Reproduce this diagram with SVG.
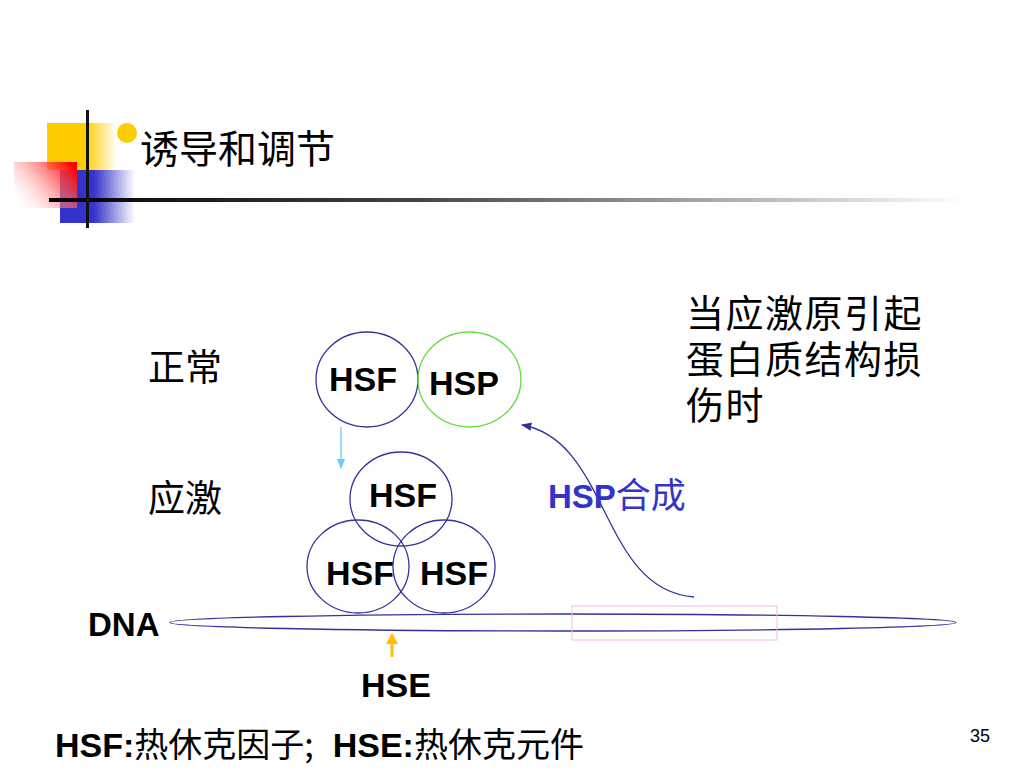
<svg xmlns="http://www.w3.org/2000/svg" width="1024" height="768" viewBox="0 0 1024 768">
<defs>
<linearGradient id="gY" x1="0" y1="0" x2="1" y2="0"><stop offset="0" stop-color="#FFCC00"/><stop offset="0.55" stop-color="#FFCC00"/><stop offset="1" stop-color="#FFCC00" stop-opacity="0"/></linearGradient>
<linearGradient id="gR" x1="1" y1="0.2" x2="0" y2="0.8"><stop offset="0" stop-color="#FF0000"/><stop offset="1" stop-color="#FFFFFF" stop-opacity="0.2"/></linearGradient>
<linearGradient id="gB" x1="0" y1="0" x2="1" y2="0"><stop offset="0" stop-color="#3333CC"/><stop offset="0.45" stop-color="#3333CC"/><stop offset="1" stop-color="#3333CC" stop-opacity="0"/></linearGradient>
<linearGradient id="gL" x1="0" y1="0" x2="1" y2="0"><stop offset="0" stop-color="#000"/><stop offset="0.4" stop-color="#444"/><stop offset="1" stop-color="#fff"/></linearGradient>
<marker id="ah" viewBox="0 0 10 10" refX="9" refY="5" markerWidth="8" markerHeight="8" orient="auto"><path d="M0,1 L10,5 L0,9 z" fill="#333399"/></marker>
<marker id="ahL" viewBox="0 0 10 10" refX="9" refY="5" markerWidth="8" markerHeight="8" orient="auto"><path d="M0,1 L10,5 L0,9 z" fill="#66CCFF"/></marker>
<marker id="ahY" viewBox="0 0 10 10" refX="7" refY="5" markerWidth="4" markerHeight="4" orient="auto"><path d="M0,0 L10,5 L0,10 z" fill="#FFC000"/></marker>
</defs>
<style>
.cn{font-family:"Noto Sans CJK SC","Liberation Sans",sans-serif;fill:#000}
.cl{font-family:"Liberation Sans","Noto Sans CJK SC",sans-serif;fill:#000}
.b{font-family:"Liberation Sans","Noto Sans CJK SC",sans-serif;font-weight:bold;fill:#000}
.c{fill:none;stroke:#333399;stroke-width:1.3}
</style>
<rect width="1024" height="768" fill="#fff"/>
<g id="decor">
<rect x="47" y="123" width="70" height="47" fill="url(#gY)"/>
<rect x="60" y="170" width="75" height="53" fill="url(#gB)"/>
<rect x="14" y="162" width="63" height="46" fill="url(#gR)"/>
<rect x="49" y="198" width="915" height="4" fill="url(#gL)"/>
<rect x="86" y="110" width="3" height="118" fill="#111"/>
<circle cx="127" cy="133" r="10" fill="#FFCC00"/>
</g>
<text class="cn" x="140" y="163" font-size="39">诱导和调节</text>
<g id="connectors">
<line x1="341" y1="427" x2="341" y2="468" stroke="#66CCFF" stroke-width="1.3" marker-end="url(#ahL)"/>
<path d="M694,597 C600,590 610,440 522,425" fill="none" stroke="#333399" stroke-width="1.3" marker-end="url(#ah)"/>
<line x1="392" y1="657" x2="392" y2="636" stroke="#FFC000" stroke-width="3" marker-end="url(#ahY)"/>
</g>
<g id="dna">
<ellipse cx="563" cy="622.5" rx="393" ry="8.5" class="c"/>
<rect x="572" y="606" width="205" height="34" fill="none" stroke="#EEBBEE" stroke-width="1"/>
<text class="b" x="88" y="636" font-size="33">DNA</text>
</g>
<g id="hsf-top"><ellipse cx="367" cy="379.5" rx="51" ry="47.5" class="c"/><text class="b" x="363" y="391" font-size="34" text-anchor="middle">HSF</text></g>
<g id="hsp"><ellipse cx="469.5" cy="379.5" rx="51.5" ry="47.5" fill="none" stroke="#66DD44" stroke-width="1.3"/><text class="b" x="464" y="395" font-size="34" text-anchor="middle">HSP</text></g>
<g id="hsf-mid"><ellipse cx="401" cy="499" rx="51" ry="47" class="c"/><text class="b" x="403" y="507" font-size="34" text-anchor="middle">HSF</text></g>
<g id="hsf-bl"><ellipse cx="358" cy="566.5" rx="51" ry="46.5" class="c"/><text class="b" x="360" y="585" font-size="34" text-anchor="middle">HSF</text></g>
<g id="hsf-br"><ellipse cx="444" cy="566.5" rx="51" ry="46.5" class="c"/><text class="b" x="454" y="585" font-size="34" text-anchor="middle">HSF</text></g>
<text class="cn" x="148" y="381" font-size="37">正常</text>
<text class="cn" x="148" y="512" font-size="37">应激</text>
<text x="548" y="508" font-size="33" fill="#3333CC"><tspan font-family="Liberation Sans,sans-serif" font-weight="bold">HSP</tspan><tspan font-family="Noto Sans CJK SC,sans-serif" font-size="35">合成</tspan></text>
<text class="cl" x="686" y="327" font-size="38" letter-spacing="1.5">当应激原引起</text>
<text class="cl" x="686" y="373" font-size="38" letter-spacing="1.5">蛋白质结构损</text>
<text class="cl" x="686" y="419" font-size="38" letter-spacing="1.5">伤时</text>
<text class="b" x="361" y="697" font-size="34">HSE</text>
<text x="55" y="757" font-size="34" fill="#000"><tspan font-family="Liberation Sans,sans-serif" font-weight="bold">HSF:</tspan><tspan font-family="Noto Sans CJK SC,sans-serif">热休克因子;</tspan><tspan font-family="Liberation Sans,sans-serif" font-weight="bold" xml:space="preserve">  HSE:</tspan><tspan font-family="Noto Sans CJK SC,sans-serif">热休克元件</tspan></text>
<text x="970" y="742" font-size="18" font-family="Liberation Sans,sans-serif" fill="#000">35</text>
</svg>
